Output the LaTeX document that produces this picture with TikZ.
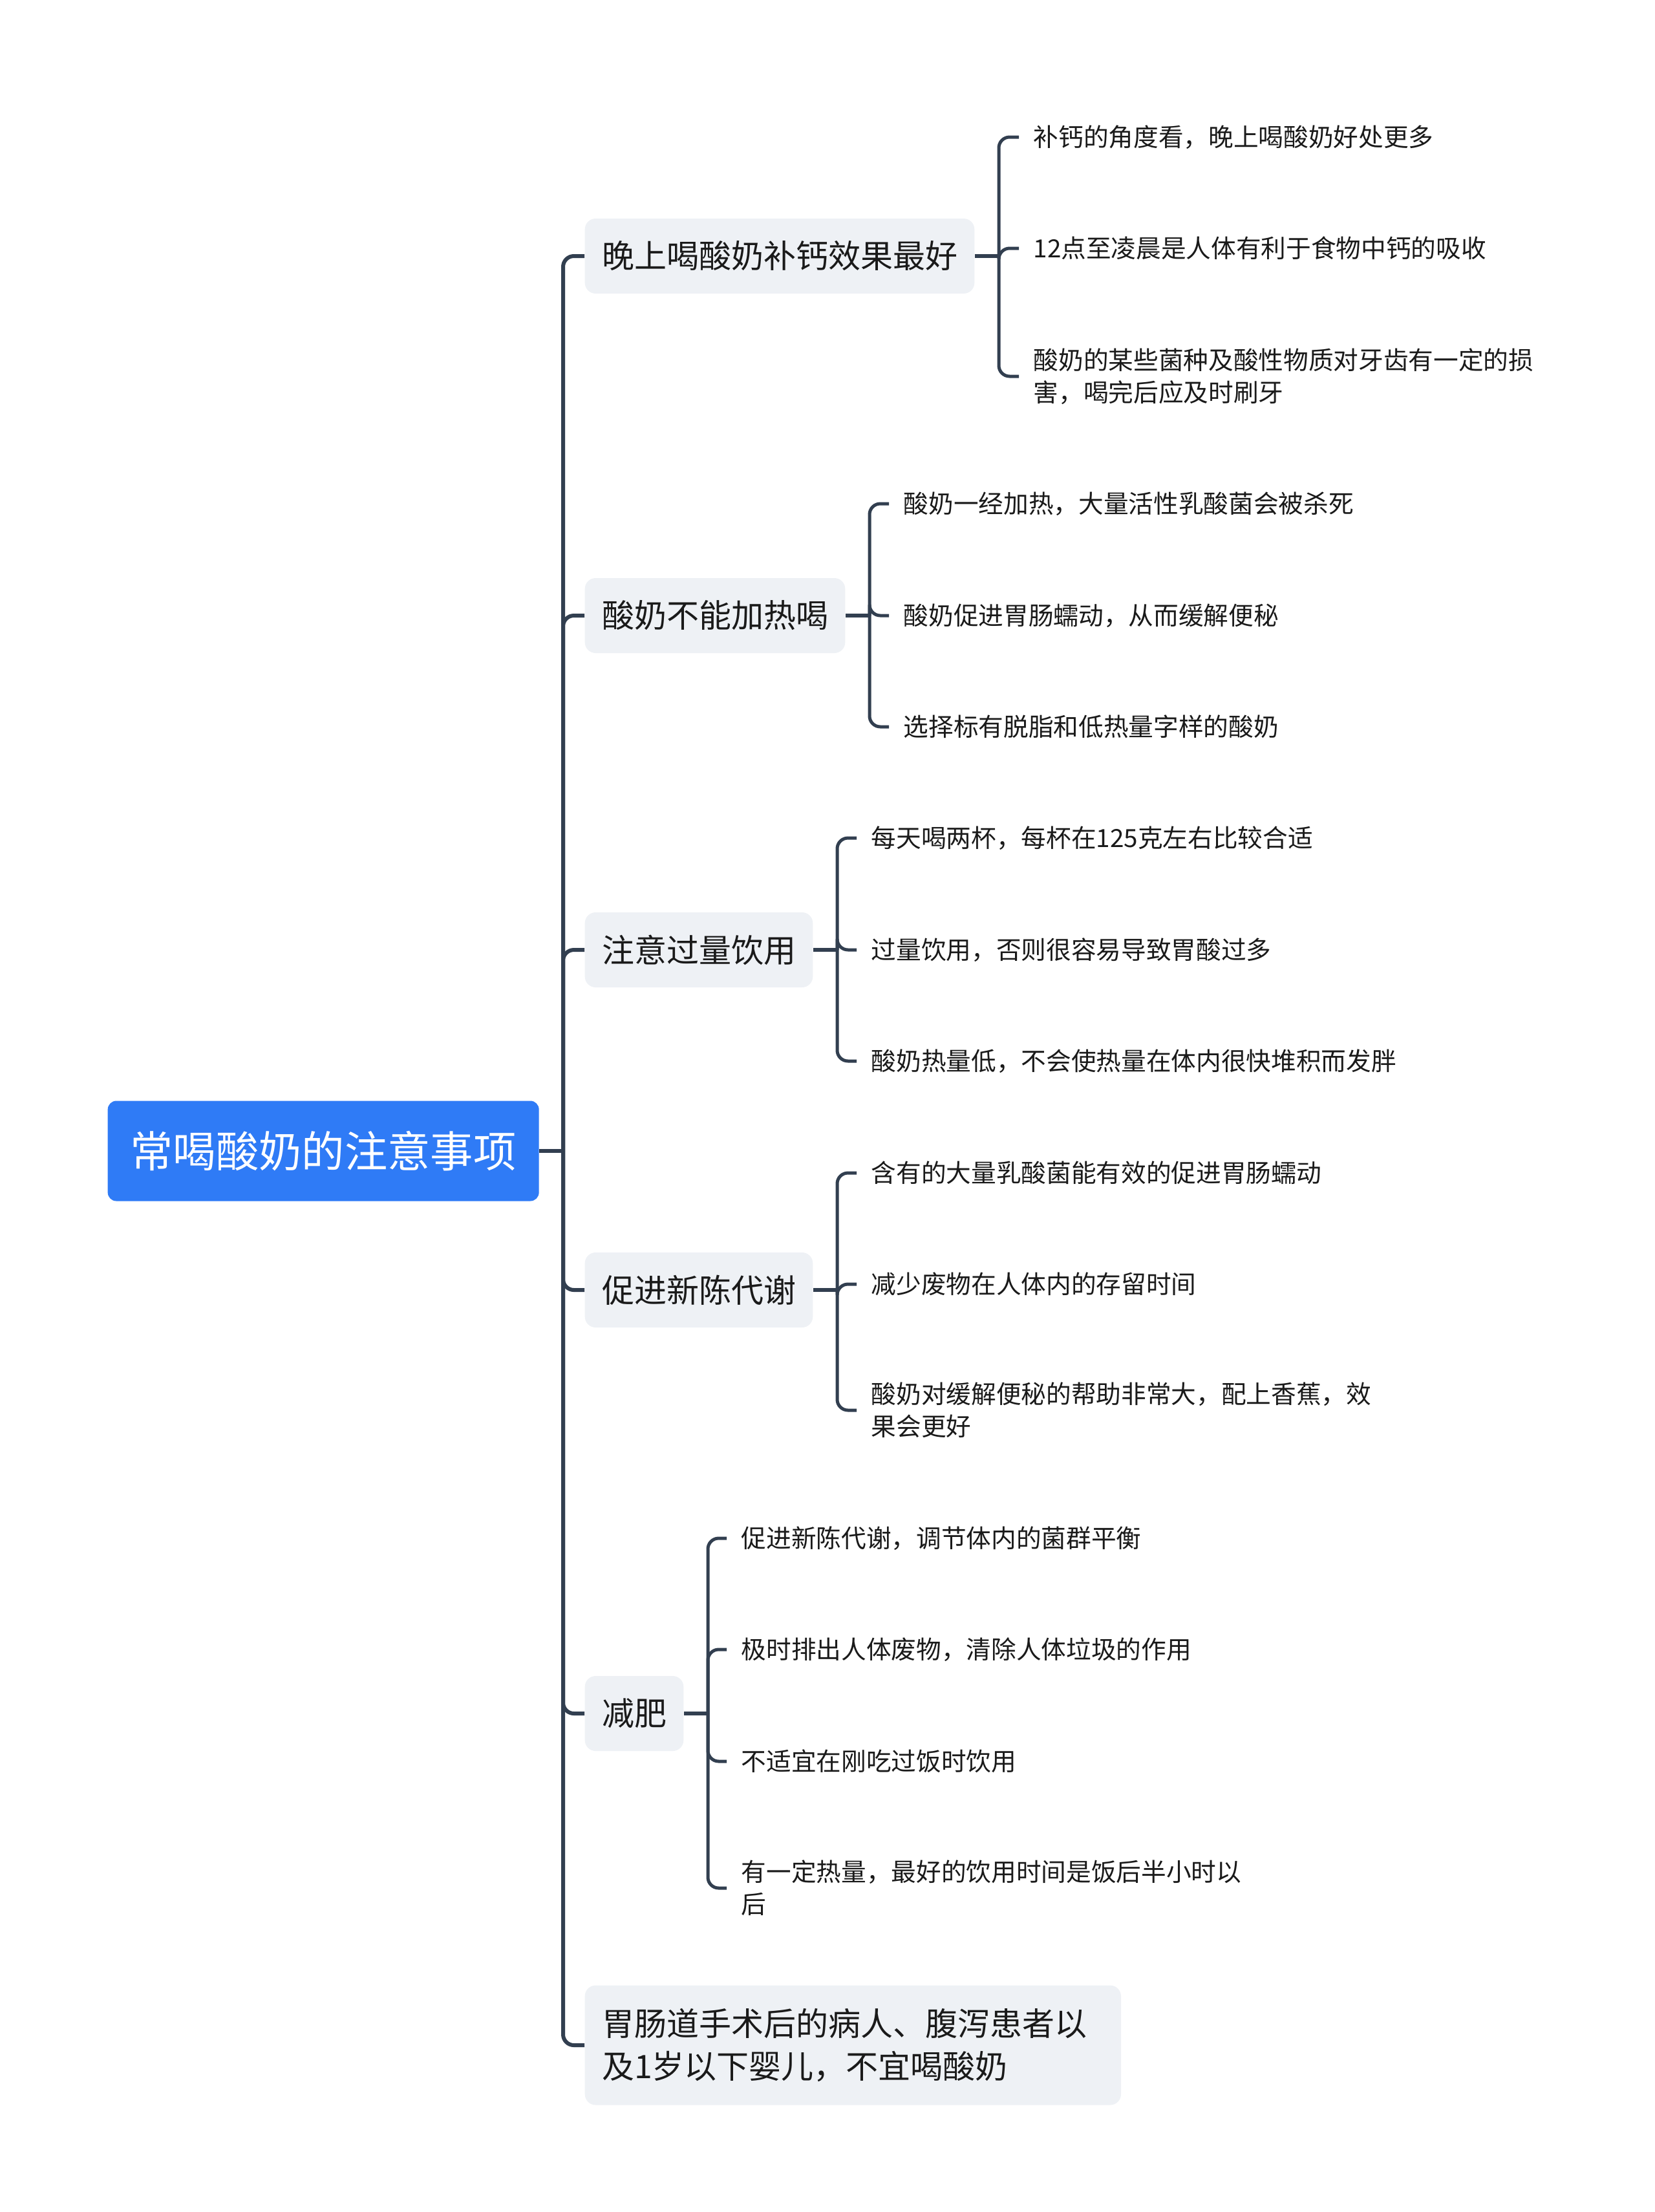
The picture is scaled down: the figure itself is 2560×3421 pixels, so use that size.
\documentclass[tikz,border=0pt]{standalone}
\usepackage{fontspec}
\setmainfont{Noto Sans CJK SC}
\usetikzlibrary{positioning}
\definecolor{rootblue}{RGB}{47,123,246}
\definecolor{topicgray}{RGB}{238,241,245}
\definecolor{linkslate}{RGB}{50,63,80}
\definecolor{inkdark}{RGB}{26,26,26}
\begin{document}
\begin{tikzpicture}[x=0.3pt, y=-0.3pt,
    rootbox/.style={fill=rootblue, text=white, rounded corners=4pt, inner xsep=10.5pt,
        minimum height=46.5pt, font=\fontsize{19.9}{24}\selectfont, anchor=west},
    topicbox/.style={fill=topicgray, text=inkdark, rounded corners=5pt, inner xsep=7.9pt,
        minimum height=34.8pt, font=\fontsize{15}{19.6}\selectfont, anchor=west},
    leaf/.style={text=inkdark, inner xsep=6.6pt, inner ysep=2pt, align=left,
        font=\fontsize{11.6}{15}\selectfont, anchor=west},
    trunk/.style={draw=linkslate, line width=1.8pt, rounded corners=5pt},
    twig/.style={draw=linkslate, line width=1.5pt, rounded corners=5pt}]
    \useasboundingbox (0,0) rectangle (2560,3421);

    % root and main topics
    \node[rootbox] (root) at (166,1780) {常喝酸奶的注意事项};
    \coordinate (spine) at (871,1780);
    \node[topicbox] (t1) at (904,396) {晚上喝酸奶补钙效果最好};
    \node[topicbox] (t2) at (904,952) {酸奶不能加热喝};
    \node[topicbox] (t3) at (904,1469) {注意过量饮用};
    \node[topicbox] (t4) at (904,1995) {促进新陈代谢};
    \node[topicbox] (t5) at (904,2650) {减肥};
    \node[topicbox, text width=233pt, align=left, minimum height=55.5pt] (t6) at (904,3163)
        {胃肠道手术后的病人、腹泻患者以\\及1岁以下婴儿，不宜喝酸奶};

    \draw[trunk] (root.east) -- (spine);
    \foreach \i in {1,...,6}
        \draw[trunk] (spine) |- (t\i.west);

    % leaves
    \node[leaf] (l11) at (1576,212) {补钙的角度看，晚上喝酸奶好处更多};
    \node[leaf] (l12) at (1576,384) {12点至凌晨是人体有利于食物中钙的吸收};
    \node[leaf] (l13) at (1576,582) {酸奶的某些菌种及酸性物质对牙齿有一定的损\\害，喝完后应及时刷牙};

    \node[leaf] (l21) at (1375,779) {酸奶一经加热，大量活性乳酸菌会被杀死};
    \node[leaf] (l22) at (1375,952) {酸奶促进胃肠蠕动，从而缓解便秘};
    \node[leaf] (l23) at (1375,1124) {选择标有脱脂和低热量字样的酸奶};

    \node[leaf] (l31) at (1325,1296) {每天喝两杯，每杯在125克左右比较合适};
    \node[leaf] (l32) at (1325,1469) {过量饮用，否则很容易导致胃酸过多};
    \node[leaf] (l33) at (1325,1641) {酸奶热量低，不会使热量在体内很快堆积而发胖};

    \node[leaf] (l41) at (1325,1814) {含有的大量乳酸菌能有效的促进胃肠蠕动};
    \node[leaf] (l42) at (1325,1986) {减少废物在人体内的存留时间};
    \node[leaf] (l43) at (1325,2181) {酸奶对缓解便秘的帮助非常大，配上香蕉，效\\果会更好};

    \node[leaf] (l51) at (1124,2379) {促进新陈代谢，调节体内的菌群平衡};
    \node[leaf] (l52) at (1124,2551) {极时排出人体废物，清除人体垃圾的作用};
    \node[leaf] (l53) at (1124,2724) {不适宜在刚吃过饭时饮用};
    \node[leaf] (l54) at (1124,2920) {有一定热量，最好的饮用时间是饭后半小时以\\后};

    % brackets
    \coordinate[right=11.1pt of t1] (b1);
    \coordinate[right=11.1pt of t2] (b2);
    \coordinate[right=11.1pt of t3] (b3);
    \coordinate[right=11.1pt of t4] (b4);
    \coordinate[right=11.1pt of t5] (b5);
    \foreach \i in {1,...,5}
        \draw[trunk] (t\i.east) -- (b\i);
    \foreach \l in {l11,l12,l13}
        \draw[twig] (b1) |- (\l.west);
    \foreach \l in {l21,l22,l23}
        \draw[twig] (b2) |- (\l.west);
    \foreach \l in {l31,l32,l33}
        \draw[twig] (b3) |- (\l.west);
    \foreach \l in {l41,l42,l43}
        \draw[twig] (b4) |- (\l.west);
    \foreach \l in {l51,l52,l53,l54}
        \draw[twig] (b5) |- (\l.west);
\end{tikzpicture}
\end{document}
